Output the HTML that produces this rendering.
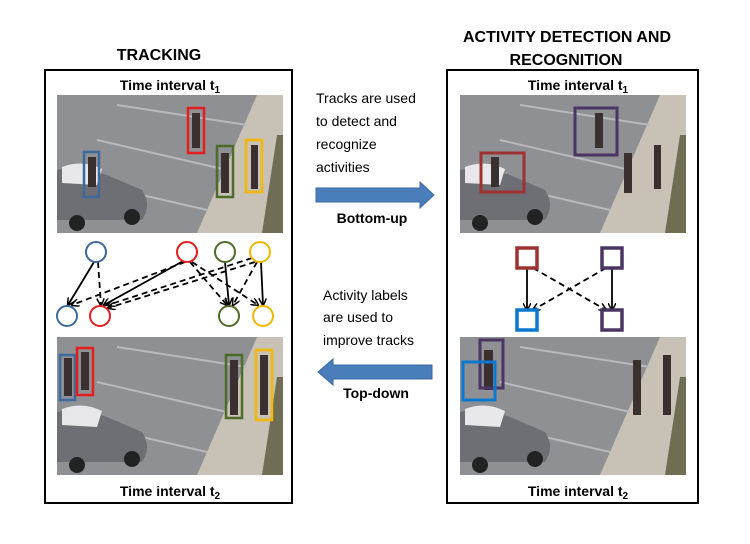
<!DOCTYPE html>
<html><head><style>
body{margin:0;background:#fff;width:750px;height:539px;overflow:hidden}
svg text{font-family:"Liberation Sans",sans-serif;font-weight:bold}
</style></head><body>
<svg width="750" height="539" viewBox="0 0 750 539" xmlns="http://www.w3.org/2000/svg">
<defs>
<marker id="ah" markerWidth="8" markerHeight="8" refX="7" refY="4" orient="auto" markerUnits="userSpaceOnUse"><path d="M0,0 L8,4 L0,8" fill="none" stroke="#000" stroke-width="1.5"/></marker>
<g id="scene">
<rect x="0" y="0" width="226" height="138" fill="#8f9094"/>
<polygon points="200,0 226,0 226,138 140,138" fill="#c7c1b6"/>
<polygon points="220,40 226,40 226,138 205,138" fill="#6f6e55"/>
<line x1="60" y1="10" x2="190" y2="30" stroke="#b8b9bc" stroke-width="2"/>
<line x1="40" y1="45" x2="170" y2="75" stroke="#b8b9bc" stroke-width="2"/>
<line x1="20" y1="85" x2="150" y2="115" stroke="#b8b9bc" stroke-width="2"/>
<path d="M0,75 Q20,70 50,80 L85,95 Q95,110 85,125 L0,125 Z" fill="#6e6f74"/>
<path d="M5,72 Q25,64 45,74 L40,90 L5,88 Z" fill="#e8e8ea"/>
<circle cx="20" cy="128" r="8" fill="#222"/><circle cx="75" cy="122" r="8" fill="#222"/>
</g>
</defs>

<text x="159" y="60" font-size="16" text-anchor="middle">TRACKING</text>
<text x="567" y="42" font-size="16" text-anchor="middle" textLength="208">ACTIVITY DETECTION AND</text>
<text x="566" y="65" font-size="16" text-anchor="middle">RECOGNITION</text>

<rect x="45" y="70" width="247" height="433" fill="none" stroke="#000" stroke-width="2"/>
<rect x="447" y="70" width="251" height="433" fill="none" stroke="#000" stroke-width="2"/>

<text x="170" y="90" font-size="14" text-anchor="middle">Time interval t<tspan font-size="10" dy="3">1</tspan></text>
<text x="578" y="90" font-size="14" text-anchor="middle">Time interval t<tspan font-size="10" dy="3">1</tspan></text>
<text x="170" y="496" font-size="14" text-anchor="middle">Time interval t<tspan font-size="10" dy="3">2</tspan></text>
<text x="578" y="496" font-size="14" text-anchor="middle">Time interval t<tspan font-size="10" dy="3">2</tspan></text>

<use href="#scene" x="57" y="95"/>
<use href="#scene" x="460" y="95"/>
<use href="#scene" x="57" y="337"/>
<use href="#scene" x="460" y="337"/>

<g fill="#3a3030">
<rect x="192" y="113" width="8" height="35"/><rect x="221" y="153" width="8" height="40"/><rect x="251" y="145" width="7" height="44"/><rect x="88" y="157" width="8" height="30"/>
<rect x="595" y="113" width="8" height="35"/><rect x="624" y="153" width="8" height="40"/><rect x="654" y="145" width="7" height="44"/><rect x="491" y="157" width="8" height="30"/>
<rect x="64" y="358" width="8" height="38"/><rect x="81" y="352" width="8" height="38"/><rect x="230" y="360" width="8" height="55"/><rect x="260" y="355" width="8" height="60"/>
<rect x="633" y="360" width="8" height="55"/><rect x="663" y="355" width="8" height="60"/><rect x="484" y="350" width="9" height="40"/>
</g>

<g fill="none" stroke-width="2.5">
<rect x="84" y="152" width="15" height="45" stroke="#3d6a9c"/>
<rect x="188" y="108" width="16" height="45" stroke="#e41e1e"/>
<rect x="217" y="146" width="16" height="51" stroke="#4f6b2a"/>
<rect x="246" y="140" width="16" height="52" stroke="#f5b800"/>
<rect x="60" y="355" width="15" height="45" stroke="#3d6a9c"/>
<rect x="77" y="348" width="16" height="47" stroke="#e41e1e"/>
<rect x="226" y="355" width="16" height="63" stroke="#4f6b2a"/>
<rect x="256" y="350" width="16" height="70" stroke="#f5b800"/>
<rect x="481" y="153" width="43" height="39" stroke="#9e3232" stroke-width="3"/>
<rect x="575" y="108" width="42" height="47" stroke="#4b3563" stroke-width="3"/>
<rect x="480" y="340" width="23" height="48" stroke="#4b3563" stroke-width="3"/>
<rect x="463" y="362" width="32" height="38" stroke="#0b78d0" stroke-width="3"/>
</g>

<g fill="none" stroke="#000" stroke-width="1.8" marker-end="url(#ah)">
<line x1="94" y1="262" x2="68" y2="305"/>
<line x1="185" y1="260" x2="104" y2="305"/>
<line x1="225" y1="262" x2="229" y2="305"/>
<line x1="261" y1="262" x2="263" y2="305"/>
<g stroke-dasharray="6,4">
<line x1="98" y1="262" x2="101" y2="305"/>
<line x1="185" y1="262" x2="72" y2="305"/>
<line x1="252" y1="258" x2="108" y2="305"/>
<line x1="255" y1="262" x2="108" y2="308"/>
<line x1="192" y1="262" x2="258" y2="305"/>
<line x1="190" y1="262" x2="227" y2="305"/>
<line x1="257" y1="262" x2="233" y2="305"/>
</g>
</g>
<g fill="#fff" stroke-width="2">
<circle cx="96" cy="252" r="10" stroke="#3d6a9c"/>
<circle cx="187" cy="252" r="10" stroke="#e41e1e"/>
<circle cx="225" cy="252" r="10" stroke="#4f6b2a"/>
<circle cx="260" cy="252" r="10" stroke="#f5b800"/>
<circle cx="67" cy="316" r="10" stroke="#3d6a9c"/>
<circle cx="100" cy="316" r="10" stroke="#e41e1e"/>
<circle cx="229" cy="316" r="10" stroke="#4f6b2a"/>
<circle cx="263" cy="316" r="10" stroke="#f5b800"/>
</g>

<g fill="none" stroke="#000" stroke-width="1.8" marker-end="url(#ah)">
<line x1="527" y1="268" x2="527" y2="310"/>
<line x1="612" y1="268" x2="612" y2="310"/>
<g stroke-dasharray="6,4">
<line x1="533" y1="268" x2="606" y2="310"/>
<line x1="606" y1="268" x2="533" y2="310"/>
</g>
</g>
<g fill="#fff" stroke-width="3.5">
<rect x="517" y="248" width="20" height="20" stroke="#9e3232"/>
<rect x="602" y="248" width="20" height="20" stroke="#4b3563"/>
<rect x="517" y="310" width="20" height="20" stroke="#0b78d0"/>
<rect x="602" y="310" width="20" height="20" stroke="#4b3563"/>
</g>

<g font-size="14">
<text x="316" y="103" style="font-weight:normal">Tracks are used</text>
<text x="316" y="126" style="font-weight:normal">to detect and</text>
<text x="316" y="149" style="font-weight:normal">recognize</text>
<text x="316" y="172" style="font-weight:normal">activities</text>
<text x="323" y="300" style="font-weight:normal">Activity labels</text>
<text x="323" y="322" style="font-weight:normal">are used to</text>
<text x="323" y="345" style="font-weight:normal">improve tracks</text>
</g>
<text x="372" y="223" font-size="14" text-anchor="middle">Bottom-up</text>
<text x="376" y="398" font-size="14" text-anchor="middle">Top-down</text>
<polygon points="316,188 420,188 420,182 434,195 420,208 420,202 316,202" fill="#4a7ebb" stroke="#3a6aa0"/>
<polygon points="432,365 333,365 333,359 318,372 333,385 333,379 432,379" fill="#4a7ebb" stroke="#3a6aa0"/>
</svg>
</body></html>
